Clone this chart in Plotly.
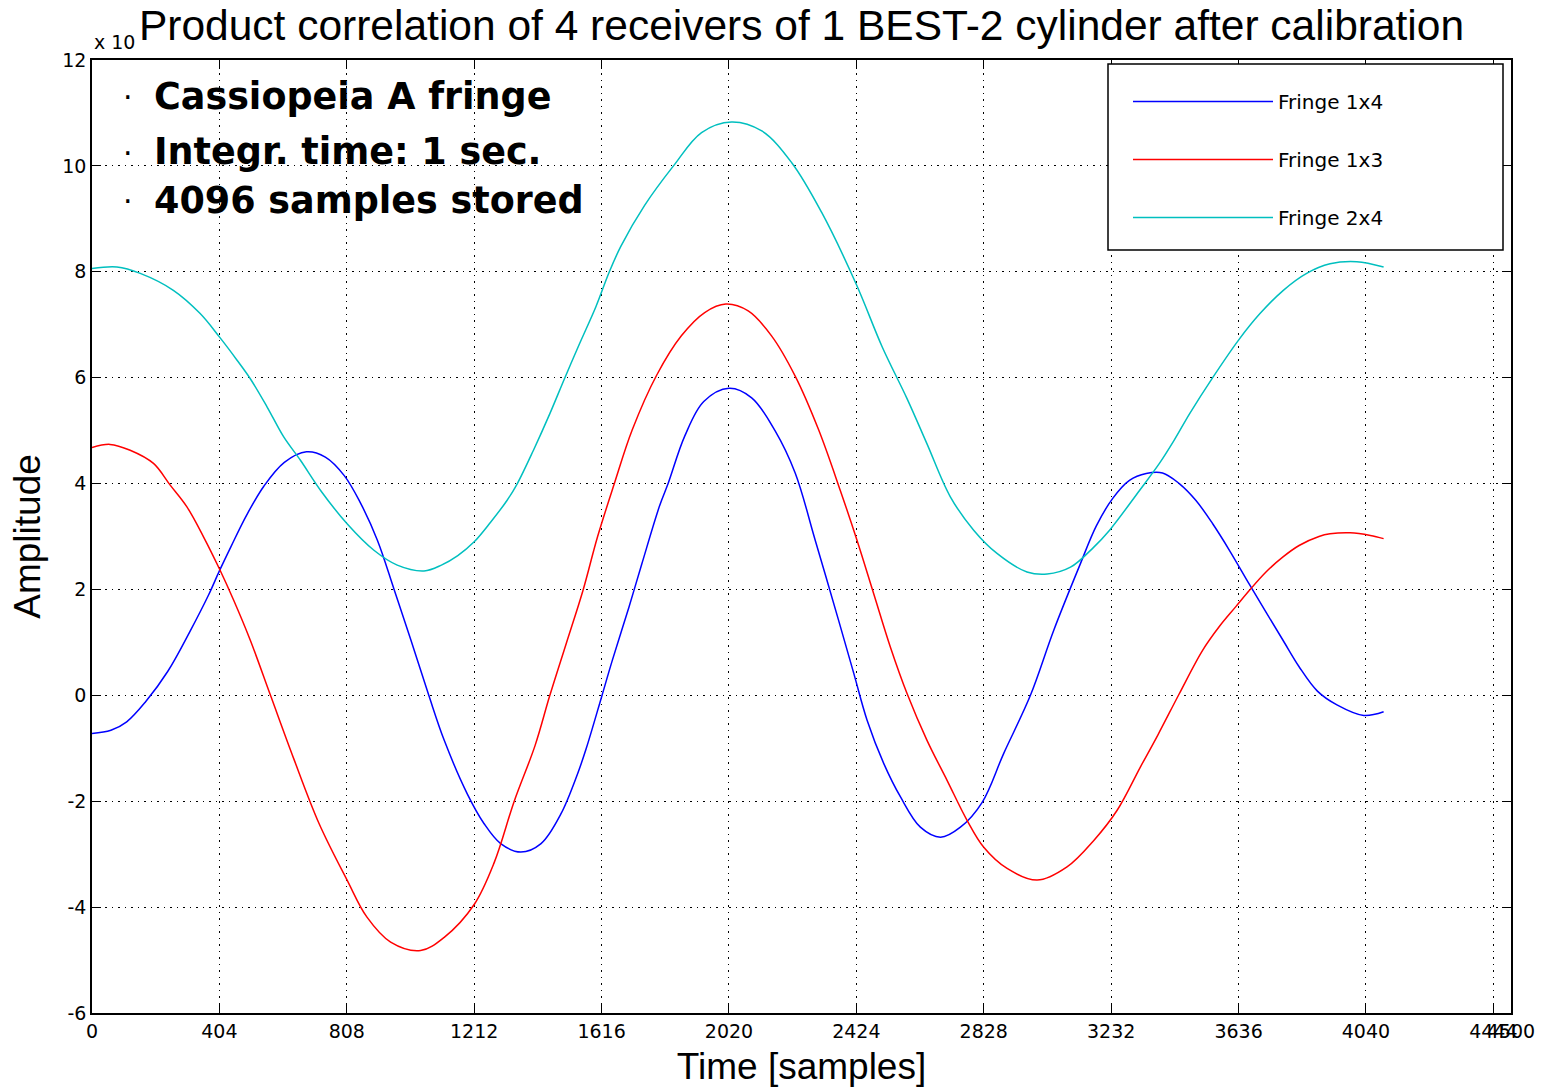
import plotly.graph_objects as go

# ---- data (amplitude in units of the axis multiplier) ----
x_1x4 = [0, 60, 110, 170, 240, 310, 370, 404, 440, 490, 545, 610, 680, 740, 800, 850, 905, 958,
         1011, 1068, 1117, 1190, 1243, 1296, 1360, 1424, 1487, 1540, 1567, 1616, 1650, 1703, 1744,
         1800, 1827, 1880, 1940, 2020, 2092, 2166, 2230, 2293, 2367, 2416, 2458, 2511, 2564, 2627,
         2691, 2754, 2823, 2891, 2976, 3050, 3132, 3185, 3237, 3290, 3343, 3395, 3448, 3501, 3554,
         3607, 3670, 3723, 3776, 3828, 3886, 3948, 4033, 4096]
y_1x4 = [-0.72, -0.66, -0.50, -0.12, 0.45, 1.20, 1.90, 2.35, 2.80, 3.40, 3.95, 4.40, 4.60, 4.50,
         4.15, 3.65, 2.93, 2.00, 1.05, 0.00, -0.85, -1.86, -2.42, -2.80, -2.96, -2.80, -2.24,
         -1.48, -1.01, -0.03, 0.66, 1.67, 2.49, 3.58, 4.00, 4.90, 5.55, 5.80, 5.62, 5.00, 4.20,
         2.94, 1.43, 0.41, -0.47, -1.29, -1.92, -2.49, -2.68, -2.49, -2.02, -1.10, 0.00, 1.23,
         2.45, 3.20, 3.72, 4.06, 4.19, 4.20, 4.00, 3.68, 3.24, 2.74, 2.10, 1.57, 1.05, 0.54,
         0.08, -0.18, -0.38, -0.31]

x_1x3 = [0, 57, 121, 195, 248, 301, 354, 404, 449, 502, 566, 640, 720, 809, 872, 947, 1042, 1117,
         1212, 1276, 1339, 1405, 1452, 1504, 1557, 1603, 1656, 1713, 1791, 1869, 1943, 2010, 2081,
         2155, 2230, 2304, 2373, 2426, 2479, 2532, 2585, 2648, 2712, 2775, 2828, 2902, 2997, 3092,
         3177, 3251, 3325, 3380, 3448, 3522, 3575, 3628, 3670, 3723, 3776, 3828, 3891, 3926, 3990,
         4054, 4096]
y_1x3 = [4.68, 4.74, 4.63, 4.38, 3.97, 3.56, 2.99, 2.39, 1.80, 1.04, 0.00, -1.20, -2.42, -3.49,
         -4.19, -4.66, -4.82, -4.57, -3.95, -3.15, -2.00, -0.95, 0.00, 0.98, 1.98, 2.99, 3.99,
         5.01, 6.05, 6.79, 7.23, 7.39, 7.26, 6.79, 6.03, 5.02, 3.87, 2.93, 1.92, 0.91, 0.03,
         -0.85, -1.61, -2.36, -2.87, -3.27, -3.49, -3.24, -2.74, -2.17, -1.35, -0.75, 0.03,
         0.85, 1.30, 1.68, 1.98, 2.33, 2.61, 2.83, 3.00, 3.05, 3.07, 3.02, 2.96]

x_2x4 = [0, 79, 153, 258, 343, 404, 460, 502, 555, 608, 661, 725, 809, 894, 968, 1053, 1108, 1160,
         1212, 1264, 1316, 1348, 1400, 1452, 1499, 1546, 1598, 1640, 1677, 1752, 1844, 1933, 2028,
         2124, 2219, 2314, 2424, 2506, 2585, 2648, 2722, 2796, 2870, 2965, 3029, 3103, 3177, 3227,
         3322, 3385, 3432, 3481, 3555, 3636, 3704, 3778, 3852, 3926, 4011, 4096]
y_2x4 = [8.06, 8.09, 7.97, 7.65, 7.21, 6.77, 6.33, 5.98, 5.45, 4.88, 4.44, 3.87, 3.24, 2.74, 2.46,
         2.35, 2.46, 2.64, 2.90, 3.27, 3.68, 3.99, 4.63, 5.32, 5.99, 6.64, 7.34, 7.99, 8.48, 9.25,
         10.00, 10.63, 10.83, 10.66, 10.06, 9.12, 7.76, 6.58, 5.60, 4.75, 3.75, 3.12, 2.68, 2.33,
         2.29, 2.42, 2.80, 3.12, 3.87, 4.38, 4.82, 5.32, 6.01, 6.71, 7.21, 7.65, 7.97, 8.15,
         8.19, 8.09]

series_names = ["Fringe 1x4", "Fringe 1x3", "Fringe 2x4"]
series_colors = ["#0000FF", "#FF0000", "#00BFBF"]

x_tickvals = [0, 404, 808, 1212, 1616, 2020, 2424, 2828, 3232, 3636, 4040, 4444, 4500]
y_tickvals = [-6, -4, -2, 0, 2, 4, 6, 8, 10, 12]

title_text = "Product correlation of 4 receivers of 1 BEST-2 cylinder after calibration"
info_lines = ["Cassiopeia A fringe", "Integr. time: 1 sec.", "4096 samples stored"]

assert len(x_1x4) == len(y_1x4) and len(x_1x3) == len(y_1x3) and len(x_2x4) == len(y_2x4)

FONT = "Liberation Sans, Arial, Helvetica, sans-serif"
TICKFONT = "DejaVu Sans, Verdana, sans-serif"

# plot-area pixel geometry (used only for placing text / legend box)
L, R, T, B = 92, 1511, 60, 1013
PW, PH = R - L, B - T


def px_x(p):
    return (p - L) / PW


def px_y(p):
    return (B - p) / PH


fig = go.Figure()
for i, (xs, ys) in enumerate([(x_1x4, y_1x4), (x_1x3, y_1x3), (x_2x4, y_2x4)]):
    fig.add_trace(go.Scatter(
        x=xs, y=ys, mode="lines", name=series_names[i],
        line=dict(color=series_colors[i], width=1.5, shape="spline", smoothing=1.0),
        legendgroup=series_names[i],
    ))

axis_common = dict(
    showline=True, linecolor="black", linewidth=1.5, mirror="allticks",
    ticks="inside", ticklen=9, tickcolor="black", tickwidth=1.2,
    showgrid=True, gridcolor="black", griddash="1.5px,5px", gridwidth=1,
    zeroline=False, automargin=False,
    tickfont=dict(family=TICKFONT, size=19, color="black"),
)

fig.update_xaxes(range=[0, 4500], tickvals=x_tickvals, tickangle=0,
                 ticktext=[str(v) for v in x_tickvals],
                 title=dict(text="Time [samples]", font=dict(family=FONT, size=37, color="black"),
                            standoff=13),
                 **axis_common)
fig.update_yaxes(range=[-6, 12], tickvals=y_tickvals,
                 ticktext=[str(v) for v in y_tickvals],
                 title=dict(text="Amplitude", font=dict(family=FONT, size=37, color="black"),
                            standoff=10),
                 **axis_common)

annotations = [
    dict(text="x 10", xref="paper", yref="paper", x=0.0, y=1.0, xanchor="left", yanchor="bottom",
         yshift=5, showarrow=False, font=dict(family=TICKFONT, size=19, color="black")),
]
line_centers = [96, 151, 200]
for k, t in enumerate(info_lines):
    annotations.append(dict(
        text="·", xref="paper", yref="paper",
        x=px_x(128), y=px_y(line_centers[k] + 2),
        xanchor="center", yanchor="middle", showarrow=False,
        font=dict(family=TICKFONT, size=30, color="black"),
    ))
    annotations.append(dict(
        text="<b>" + t + "</b>", xref="paper", yref="paper",
        x=px_x(152), y=px_y(line_centers[k]),
        xanchor="left", yanchor="middle", showarrow=False,
        font=dict(family="DejaVu Sans, Verdana, sans-serif", size=36.5, color="black"),
    ))

fig.update_layout(
    width=1545, height=1088,
    margin=dict(l=L, r=1545 - R, t=T, b=1088 - B, autoexpand=False),
    paper_bgcolor="white", plot_bgcolor="white",
    title=dict(text=title_text, x=0.5, xref="paper", y=1 - 25 / 1088, yanchor="middle",
               font=dict(family=FONT, size=42.5, color="black")),
    showlegend=True,
    legend=dict(
        x=px_x(1128), y=px_y(82), xanchor="left", yanchor="top",
        bgcolor="rgba(0,0,0,0)", borderwidth=0,
        font=dict(family=TICKFONT, size=20, color="black"),
        itemwidth=140, tracegroupgap=29, traceorder="grouped",
    ),
    shapes=[dict(type="rect", xref="paper", yref="paper",
                 x0=px_x(1108), x1=px_x(1503), y0=px_y(250), y1=px_y(64),
                 line=dict(color="black", width=1.5), fillcolor="white", layer="above")],
    annotations=annotations,
)

fig.write_html("out.html")
